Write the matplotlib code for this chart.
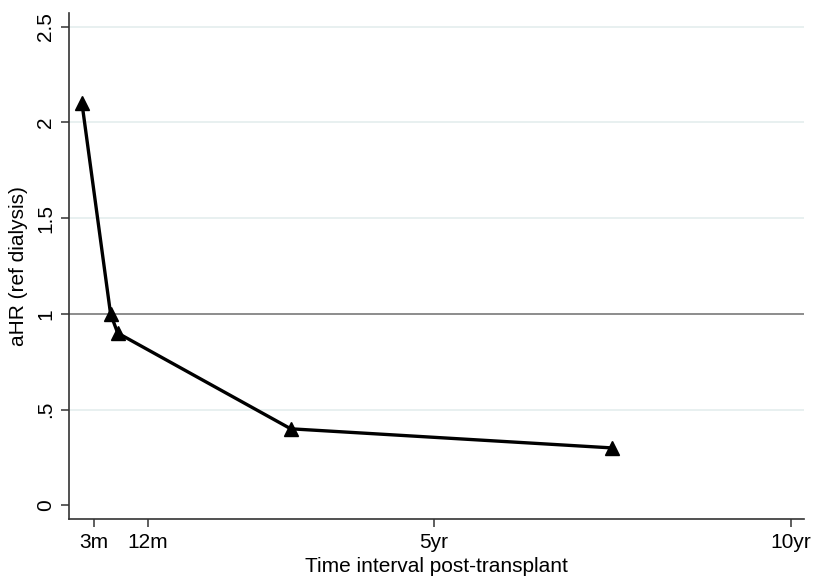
import matplotlib
matplotlib.use('Agg')
import matplotlib.pyplot as plt

# time since transplant (years) and adjusted hazard ratios
years = [0.08, 0.48, 0.58, 3.0, 7.5]
ahr = [2.10, 1.00, 0.90, 0.40, 0.30]

xticks = [0.25, 1, 5, 10]
xticklabels = ['3m', '12m', '5yr', '10yr']
yticks = [0, 0.5, 1, 1.5, 2, 2.5]
yticklabels = ['0', '.5', '1', '1.5', '2', '2.5']

plt.rcParams['font.family'] = ['Liberation Sans', 'DejaVu Sans']

fig = plt.figure(figsize=(8.13, 5.79), dpi=100)
ax = fig.add_axes([0.085, 0.104, 0.904, 0.873])

for y in [0.5, 1.5, 2, 2.5]:
    ax.axhline(y, color='#e4eeee', lw=1.2, zorder=0)
ax.axhline(1, color='#8c8c8c', lw=1.4, zorder=1)

ax.plot(years, ahr, color='black', lw=2.4, marker='^', markersize=10.5,
        markerfacecolor='black', markeredgecolor='black', zorder=3)

ax.set_xlim(-0.1, 10.18)
ax.set_ylim(-0.07, 2.57)
ax.set_xticks(xticks)
ax.set_xticklabels(xticklabels)
ax.set_yticks(yticks)
ax.set_yticklabels(yticklabels, rotation=90, va='center')

ax.set_xlabel('Time interval post-transplant', fontsize=15, labelpad=4)
ax.set_ylabel('aHR (ref dialysis)', fontsize=15, labelpad=6)

for side in ['top', 'right']:
    ax.spines[side].set_visible(False)
for side in ['left', 'bottom']:
    ax.spines[side].set_color('#333333')
    ax.spines[side].set_linewidth(1.2)
ax.tick_params(axis='both', length=6, width=1.1, color='#333333', labelsize=15, pad=4)

fig.savefig('out.png', dpi=100)
